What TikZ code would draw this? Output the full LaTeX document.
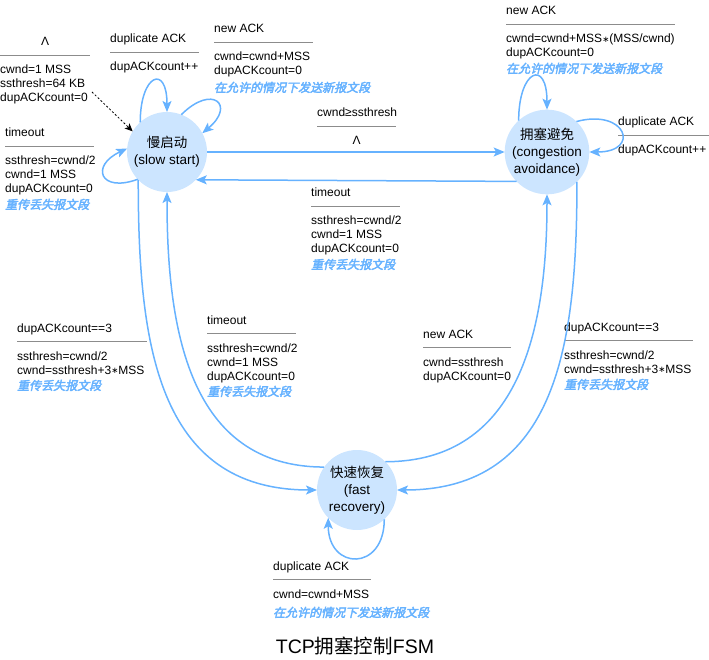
\documentclass[tikz,border=0pt]{standalone}
\usepackage{fontspec}
\setmainfont{Liberation Sans}
\newfontfamily\cjk{Noto Sans CJK SC}
\newfontfamily\cjkhint[FakeSlant=0.22,FakeBold=3]{Noto Sans CJK SC}
\newfontfamily\symfont{DejaVu Sans}
\usepackage{xcolor}
\usepackage{tikz}
\usetikzlibrary{arrows.meta}
\definecolor{stfill}{HTML}{CCE5FF}
\definecolor{edgeblue}{HTML}{66B2FF}
\definecolor{sepgray}{HTML}{8C8C8C}
\newcommand{\seprule}[1]{{\color{sepgray}\rule[4pt]{#1}{0.8pt}}}
\newcommand{\hinttext}[1]{{\color{edgeblue}\cjkhint #1}}
\newcommand{\astop}{\raisebox{0.5pt}{\fontsize{8.5}{8.5}\selectfont\symfont ∗}}

\begin{document}
\begin{tikzpicture}[x=1pt, y=1pt,
  state/.style={circle, fill=stfill, minimum size=80pt, inner sep=0pt, outer sep=0pt,
    align=center, font=\fontsize{13.5}{17}\selectfont},
  trans/.style={draw=edgeblue, line width=1.5pt, -{Stealth[length=11pt,width=9pt,inset=2.5pt]}},
  initial/.style={draw=black, line width=0.8pt, dash pattern=on 2pt off 2pt,
    -{Stealth[length=8pt,width=7pt,inset=2pt]}},
  lbl/.style={anchor=north west, align=left, inner sep=0pt, font=\fontsize{12}{14}\selectfont},
  title/.style={font=\fontsize{19.5}{22}\selectfont}]
  \useasboundingbox (0,0) rectangle (709,-660);

  \node[state] (ss) at (167,-152) {{\cjk 慢启动}\\(slow start)};
  \node[state] (ca) at (547,-152) {{\cjk 拥塞避免}\\(congestion\\avoidance)};
  \node[state] (fr) at (357,-490) {{\cjk 快速恢复}\\(fast\\recovery)};

  \node[lbl] (l-init) at (0,-36) {\strut\makebox[90pt]{Λ}\\\seprule{90pt}\\
    cwnd=1 MSS\\ssthresh=64 KB\\dupACKcount=0};
  \node[lbl] (l-ss-to) at (5,-127) {\strut timeout\\\seprule{89pt}\\
    ssthresh=cwnd/2\\cwnd=1 MSS\\dupACKcount=0\\[2pt]\hinttext{重传丢失报文段}};
  \node[lbl] (l-ss-dup) at (110,-33) {\strut duplicate ACK\\\seprule{89pt}\\dupACKcount++};
  \node[lbl] (l-ss-new) at (214,-23) {\strut new ACK\\\seprule{99pt}\\
    cwnd=cwnd+MSS\\dupACKcount=0\\[3pt]\hinttext{在允许的情况下发送新报文段}};
  \node[lbl] (l-ss-ca) at (317,-107) {\strut cwnd≥ssthresh\\\seprule{79pt}\\\makebox[79pt]{Λ}};
  \node[lbl] (l-ca-ss) at (311,-187) {\strut timeout\\\seprule{89pt}\\
    ssthresh=cwnd/2\\cwnd=1 MSS\\dupACKcount=0\\[2pt]\hinttext{重传丢失报文段}};
  \node[lbl] (l-ss-fr) at (17,-322) {\strut dupACKcount==3\\\seprule{130pt}\\
    ssthresh=cwnd/2\\cwnd=ssthresh+3\astop MSS\\[2pt]\hinttext{重传丢失报文段}};
  \node[lbl] (l-fr-ss) at (207,-314) {\strut timeout\\\seprule{89pt}\\
    ssthresh=cwnd/2\\cwnd=1 MSS\\dupACKcount=0\\[2pt]\hinttext{重传丢失报文段}};
  \node[lbl] (l-fr-ca) at (423,-328) {\strut new ACK\\\seprule{88pt}\\
    cwnd=ssthresh\\dupACKcount=0};
  \node[lbl] (l-ca-fr) at (564,-321) {\strut dupACKcount==3\\\seprule{129pt}\\
    ssthresh=cwnd/2\\cwnd=ssthresh+3\astop MSS\\[2pt]\hinttext{重传丢失报文段}};
  \node[lbl] (l-ca-new) at (506,-5) {\strut new ACK\\\seprule{169pt}\\
    cwnd=cwnd+MSS\astop(MSS/cwnd)\\dupACKcount=0\\[2pt]\hinttext{在允许的情况下发送新报文段}};
  \node[lbl] (l-ca-dup) at (618,-116) {\strut duplicate ACK\\\seprule{91pt}\\dupACKcount++};
  \node[lbl] (l-fr-dup) at (273,-560) {\strut duplicate ACK\\\seprule{98pt}\\
    cwnd=cwnd+MSS\\[5pt]\hinttext{在允许的情况下发送新报文段}};

  \node[title] (title) at (355,-646) {TCP{\cjk 拥塞控制}FSM};

  \coordinate (start) at (92,-92);
  \draw[initial] (start) -- (ss.149);

  \draw[trans] (ss.132) to[out=90,in=90,looseness=4.3] (ss.90);
  \draw[trans] (ss.69) to[out=45,in=40,looseness=4] (ss.28);
  \draw[trans] (ss.223) to[out=200,in=205,looseness=3.2] (ss.175);
  \draw[trans] (ca.132) to[out=90,in=90,looseness=4.3] (ca.90);
  \draw[trans] (ca.46) to[out=15,in=0,looseness=4] (ca.0);
  \draw[trans] (fr.-47) to[out=-90,in=-90,looseness=2.4] (fr.-136);

  \draw[trans] (ss.east) -- (ca.west);
  \draw[trans] (ca.224) -- (ss.-44);
  \draw[trans] (ss.224) to[out=-90,in=180,looseness=1.15] (fr.west);
  \draw[trans] (fr.145) to[out=180,in=-90,looseness=1.1] (ss.south);
  \draw[trans] (fr.45) to[out=0,in=-90,looseness=1.1] (ca.south);
  \draw[trans] (ca.-45) to[out=-90,in=0,looseness=1.15] (fr.east);
\end{tikzpicture}
\end{document}
